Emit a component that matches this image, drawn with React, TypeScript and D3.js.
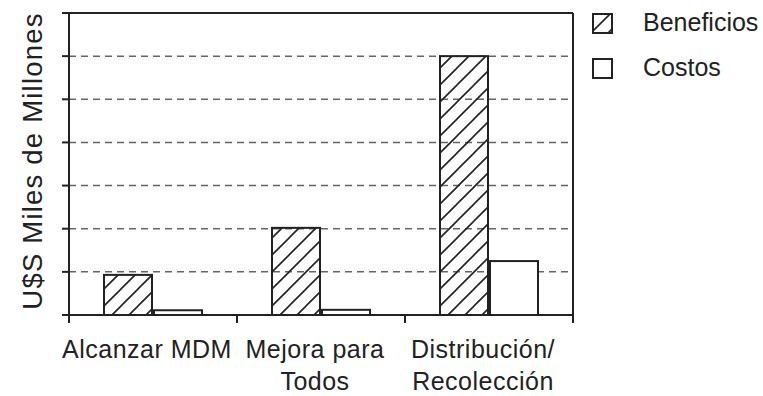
import React from "react";
import * as d3 from "d3";

const categories = ["Alcanzar MDM", "Mejora para Todos", "Distribución/Recolección"];
const categoryLines = [["Alcanzar MDM"], ["Mejora para", "Todos"], ["Distribución/", "Recolección"]];
const series = ["Beneficios", "Costos"];
const beneficios = [0.93, 2.02, 6.0];
const costos = [0.11, 0.12, 1.25];
const yTicks = [0, 1, 2, 3, 4, 5, 6, 7];
const yLabel = "U$S Miles de Millones";

const W = 763, H = 396;
const L = 69, R = 573, T = 13, B = 315;
const INK = "#222";
const FONT = "'Liberation Sans', Arial, Helvetica, sans-serif";

export default function App() {
  const x0 = d3.scaleBand<string>().domain(categories).range([L, R]).padding(0);
  const groupW = 98;
  const x1 = d3.scaleBand<string>().domain(series).range([0, groupW]).paddingInner(0.04);
  const y = d3.scaleLinear().domain([0, 7]).range([B, T]);
  const data = categories.map((c, i) => ({ c, vals: [beneficios[i], costos[i]] }));
  const labelX = (c: string) => (x0(c) as number) + x0.bandwidth() / 2 - 6;

  return (
    <svg width={W} height={H} style={{ position: "absolute", left: 0, top: 0 }}>
      <defs>
        <pattern id="hatch" patternUnits="userSpaceOnUse" width={17} height={17}>
          <path d="M-2,2 L2,-2 M0,17 L17,0 M15,19 L19,15" stroke={INK} strokeWidth={1.6} />
        </pattern>
      </defs>
      <rect x={0} y={0} width={W} height={H} fill="#fff" />
      {/* gridlines */}
      {yTicks.filter((t) => t > 0 && t < 7).map((t) => (
        <line key={t} x1={L} x2={R} y1={y(t)} y2={y(t)} stroke="#666" strokeWidth={1.5} strokeDasharray="7,5" />
      ))}
      {/* bars */}
      {data.map((d) => {
        const gx = (x0(d.c) as number) + (x0.bandwidth() - groupW) / 2;
        return (
          <g key={d.c} transform={`translate(${gx},0)`}>
            {series.map((s, j) => (
              <rect
                key={s}
                x={x1(s)}
                y={y(d.vals[j])}
                width={x1.bandwidth()}
                height={B - y(d.vals[j])}
                fill={j === 0 ? "url(#hatch)" : "#fff"}
                stroke={INK}
                strokeWidth={2}
              />
            ))}
          </g>
        );
      })}
      {/* frame */}
      <line x1={L - 7} x2={R} y1={T} y2={T} stroke={INK} strokeWidth={2} />
      <line x1={L - 7} x2={R} y1={B} y2={B} stroke={INK} strokeWidth={2} />
      <line x1={L} x2={L} y1={T} y2={B + 8} stroke={INK} strokeWidth={2} />
      <line x1={R} x2={R} y1={T} y2={B + 8} stroke={INK} strokeWidth={2} />
      {yTicks.map((t) => (
        <line key={t} x1={L - 7} x2={L} y1={y(t)} y2={y(t)} stroke={INK} strokeWidth={2} />
      ))}
      {categories.slice(1).map((c) => (
        <line key={c} x1={x0(c)} x2={x0(c)} y1={B} y2={B + 8} stroke={INK} strokeWidth={2} />
      ))}
      {/* category labels */}
      {categories.map((c, i) => (
        <text key={c} y={358} textAnchor="middle" fontFamily={FONT} fontSize={25} letterSpacing={0.5} fill={INK}>
          {categoryLines[i].map((ln, k) => (
            <tspan key={k} x={labelX(c)} dy={k === 0 ? 0 : 32}>{ln}</tspan>
          ))}
        </text>
      ))}
      {/* y label */}
      <text transform={`translate(42,${(T + B) / 2 - 3}) rotate(-90)`} textAnchor="middle" fontFamily={FONT} fontSize={27.5} letterSpacing={1.2} fill={INK}>
        {yLabel}
      </text>
      {/* legend */}
      {series.map((s, j) => (
        <g key={s} transform={`translate(593,${14 + j * 45})`}>
          <rect x={0} y={0} width={19} height={19} fill={j === 0 ? "url(#hatch)" : "#fff"} stroke={INK} strokeWidth={2} />
          <text x={50} y={17} fontFamily={FONT} fontSize={25} fill={INK}>{s}</text>
        </g>
      ))}
    </svg>
  );
}
